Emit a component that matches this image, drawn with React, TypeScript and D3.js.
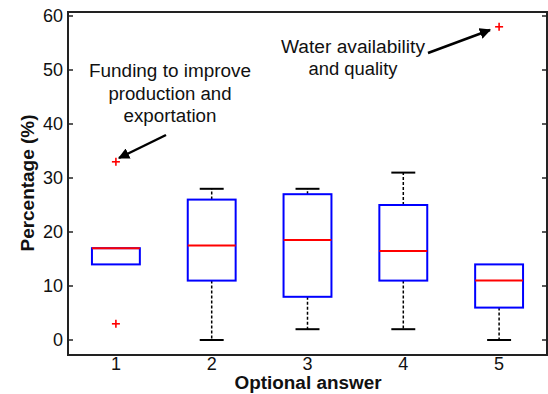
import React from 'react';
import * as d3 from 'd3';

const categories = ['1', '2', '3', '4', '5'];
const lowerWhisker = [14, 0, 2, 2, 0];
const q1 = [14, 11, 8, 11, 6];
const median = [17, 17.5, 18.5, 16.5, 11];
const q3 = [17, 26, 27, 25, 14];
const upperWhisker = [17, 28, 28, 31, 14];
const outliers: number[][] = [[3, 33], [], [], [], [58]];
const yTicks = [0, 10, 20, 30, 40, 50, 60];
const note1 = ['Funding to improve', 'production and', 'exportation'];
const note1Len = [162, 123, 93];
const note2 = ['Water availability', 'and quality'];
const note2Len = [144, 89];

const W = 548, H = 394;
const L = 68, R = 547, T = 12, B = 355;

export default function App() {
  const x = d3.scaleLinear().domain([0.5, 5.5]).range([L, R]);
  const y = d3.scaleLinear().domain([-15 / 5.4, 328 / 5.4]).range([B, T]);
  const boxHalf = (x(1.25) - x(1));
  const capHalf = (x(1.125) - x(1));
  const font = '"Liberation Sans", Arial, Helvetica, sans-serif';
  const axisColor = '#222';

  return (
    <div style={{ position: 'absolute', left: 0, top: 0, width: W, height: H, overflow: 'hidden' }}>
      <svg width={W} height={H} style={{ display: 'block', background: '#fff' }} fontFamily={font}>
        <defs>
          <marker id="ah" viewBox="0 0 10 10" refX="9" refY="5" markerWidth="4.5" markerHeight="4.5" orient="auto" markerUnits="strokeWidth">
            <path d="M0,0 L10,5 L0,10 z" fill="#000" />
          </marker>
        </defs>
        {categories.map((c, i) => {
          const cx = x(i + 1);
          const hasUpper = upperWhisker[i] !== q3[i];
          const hasLower = lowerWhisker[i] !== q1[i];
          return (
            <g key={c}>
              {hasUpper && <line x1={cx} x2={cx} y1={y(q3[i])} y2={y(upperWhisker[i])} stroke="#000" strokeWidth={1.5} strokeDasharray="3,2" />}
              {hasLower && <line x1={cx} x2={cx} y1={y(q1[i])} y2={y(lowerWhisker[i])} stroke="#000" strokeWidth={1.5} strokeDasharray="3,2" />}
              {hasUpper && <line x1={cx - capHalf} x2={cx + capHalf} y1={y(upperWhisker[i])} y2={y(upperWhisker[i])} stroke="#000" strokeWidth={2} />}
              {hasLower && <line x1={cx - capHalf} x2={cx + capHalf} y1={y(lowerWhisker[i])} y2={y(lowerWhisker[i])} stroke="#000" strokeWidth={2} />}
              <rect x={cx - boxHalf} y={y(q3[i])} width={boxHalf * 2} height={y(q1[i]) - y(q3[i])} fill="none" stroke="#0000ff" strokeWidth={2} />
              <line x1={cx - boxHalf} x2={cx + boxHalf} y1={y(median[i])} y2={y(median[i])} stroke="#ff0000" strokeWidth={2} />
              {outliers[i].map((v, j) => (
                <g key={j} stroke="#ff0000" strokeWidth={1.6}>
                  <line x1={cx - 4} x2={cx + 4} y1={y(v)} y2={y(v)} />
                  <line x1={cx} x2={cx} y1={y(v) - 4} y2={y(v) + 4} />
                </g>
              ))}
            </g>
          );
        })}
        <rect x={L} y={T} width={R - L} height={B - T} fill="none" stroke={axisColor} strokeWidth={2} />
        {yTicks.map(t => (
          <g key={t}>
            <line x1={L} x2={L + 5} y1={y(t)} y2={y(t)} stroke={axisColor} strokeWidth={1.5} />
            <line x1={R - 5} x2={R} y1={y(t)} y2={y(t)} stroke={axisColor} strokeWidth={1.5} />
            <text x={L - 5} y={y(t)} dy="0.36em" textAnchor="end" fontSize={18} fill="#111">{t}</text>
          </g>
        ))}
        {categories.map((c, i) => (
          <text key={c} x={x(i + 1)} y={370} textAnchor="middle" fontSize={18} fill="#111">{c}</text>
        ))}
        <text x={308} y={389} textAnchor="middle" fontSize={18} fontWeight="bold" fill="#111" textLength={147} lengthAdjust="spacingAndGlyphs">Optional answer</text>
        <text transform={`translate(34,183) rotate(-90)`} textAnchor="middle" fontSize={18} fontWeight="bold" fill="#111" textLength={137} lengthAdjust="spacingAndGlyphs">Percentage (%)</text>
        {note1.map((s, i) => (
          <text key={s} x={170} y={77 + i * 22.7} textAnchor="middle" fontSize={18} fill="#111" textLength={note1Len[i]} lengthAdjust="spacingAndGlyphs">{s}</text>
        ))}
        {note2.map((s, i) => (
          <text key={s} x={353} y={53 + i * 22} textAnchor="middle" fontSize={18} fill="#111" textLength={note2Len[i]} lengthAdjust="spacingAndGlyphs">{s}</text>
        ))}
        <line x1={166} y1={135} x2={119} y2={158} stroke="#000" strokeWidth={2.5} markerEnd="url(#ah)" />
        <line x1={428} y1={53} x2={490} y2={30} stroke="#000" strokeWidth={2.5} markerEnd="url(#ah)" />
      </svg>
    </div>
  );
}
